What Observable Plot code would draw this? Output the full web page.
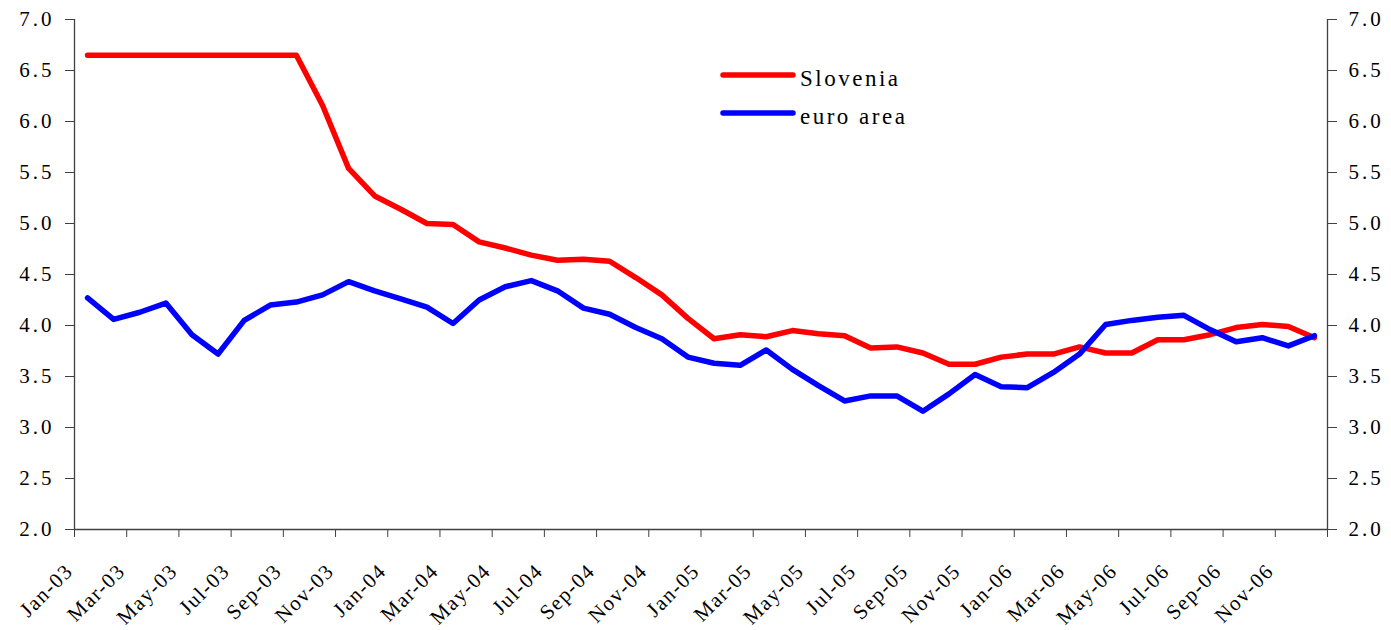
<!DOCTYPE html>
<html>
<head>
<meta charset="utf-8">
<script src="https://cdn.jsdelivr.net/npm/d3@7"></script>
<script src="https://cdn.jsdelivr.net/npm/@observablehq/plot@0.6"></script>
<style>
  html, body { margin: 0; padding: 0; background: #fff; }
  #chart svg { display: block; }
  #chart svg, #chart svg text { font-family: "Liberation Serif", "Times New Roman", serif !important; }
  #chart svg g[aria-label="y-axis tick label"] text { font-size: 21px; letter-spacing: 3px; }
  #chart svg g[aria-label="text"] text { font-size: 21px; letter-spacing: 1.5px; }
  #chart svg g.legend text { font-size: 23px; letter-spacing: 2.5px; }
</style>
</head>
<body>
<div id="chart"></div>
<script>
// Monthly data Jan-03 .. Dec-06
const tickLabels = ["Jan-03","Mar-03","May-03","Jul-03","Sep-03","Nov-03",
  "Jan-04","Mar-04","May-04","Jul-04","Sep-04","Nov-04",
  "Jan-05","Mar-05","May-05","Jul-05","Sep-05","Nov-05",
  "Jan-06","Mar-06","May-06","Jul-06","Sep-06","Nov-06"];

const slovenia = [6.65, 6.65, 6.65, 6.65, 6.65, 6.65, 6.65, 6.65, 6.65,
  6.16, 5.54, 5.27, 5.14, 5.00, 4.99, 4.82, 4.76, 4.69, 4.64, 4.65, 4.63, 4.47, 4.30, 4.07, 3.87,
  3.91, 3.89, 3.95, 3.92, 3.90, 3.78, 3.79, 3.73, 3.62, 3.62, 3.69,
  3.72, 3.72, 3.79, 3.73, 3.73, 3.86, 3.86, 3.91, 3.98, 4.01, 3.99, 3.88];

const euroArea = [4.27, 4.06, 4.13, 4.22, 3.91, 3.72, 4.05, 4.20, 4.23, 4.30, 4.43, 4.34,
  4.26, 4.18, 4.02, 4.25, 4.38, 4.44, 4.34, 4.17, 4.11, 3.98, 3.87, 3.69,
  3.63, 3.61, 3.76, 3.57, 3.41, 3.26, 3.31, 3.31, 3.16, 3.33, 3.52, 3.40,
  3.39, 3.54, 3.72, 4.01, 4.05, 4.08, 4.10, 3.96, 3.84, 3.88, 3.80, 3.90];

const seriesNames = ["Slovenia", "euro area"];
const seriesColors = ["#ff0000", "#0000ff"];
const yTicks = [2.0, 2.5, 3.0, 3.5, 4.0, 4.5, 5.0, 5.5, 6.0, 6.5, 7.0];

const nMonths = slovenia.length;
const sloData = slovenia.map((v, i) => ({x: i + 0.5, y: v}));
const euroData = euroArea.map((v, i) => ({x: i + 0.5, y: v}));
const tickPos = d3.range(0, nMonths + 1, 2);
const labelData = tickLabels.map((t, k) => ({x: k * 2, label: t}));

const font = "Liberation Serif";
const axisColor = "#404040";

const plot = Plot.plot({
  width: 1391,
  height: 630,
  marginLeft: 74,
  marginRight: 64,
  marginTop: 19,
  marginBottom: 101,
  style: {fontSize: "21px", color: "#000", background: "#fff"},
  x: {domain: [0, nMonths], axis: null},
  y: {domain: [2, 7], axis: null},
  marks: [
    Plot.ruleX([0, nMonths], {stroke: axisColor, strokeWidth: 1.3}),
    Plot.ruleY([2], {stroke: axisColor, strokeWidth: 1.3}),
    Plot.axisY({anchor: "left", ticks: yTicks, tickSize: 9, tickPadding: 11,
      tickFormat: d => d.toFixed(1), label: null, stroke: axisColor,
      fontSize: 21, fontFamily: font}),
    Plot.axisY({anchor: "right", ticks: yTicks, tickSize: 9, tickPadding: 12,
      tickFormat: d => d.toFixed(1), label: null, stroke: axisColor,
      fontSize: 21, fontFamily: font}),
    Plot.axisX({ticks: tickPos, tickSize: 8, tickFormat: () => "", label: null, stroke: axisColor}),
    Plot.text(labelData, {x: "x", text: "label", frameAnchor: "bottom",
      rotate: -45, textAnchor: "end", lineAnchor: "middle", dx: -5, dy: 38,
      fontSize: 21, fontFamily: font, fill: "#000"}),
    Plot.line(sloData, {x: "x", y: "y", stroke: seriesColors[0], strokeWidth: 5.5,
      strokeLinejoin: "round", strokeLinecap: "round"}),
    Plot.line(euroData, {x: "x", y: "y", stroke: seriesColors[1], strokeWidth: 5.5,
      strokeLinejoin: "round", strokeLinecap: "round"})
  ]
});

document.getElementById("chart").appendChild(plot);

// Legend inside the plot area
const svg = d3.select(plot);
const leg = svg.append("g").attr("class", "legend").attr("font-size", 23).attr("text-anchor", "start");
seriesNames.forEach((name, i) => {
  const yy = 75 + i * 38;
  leg.append("line").attr("x1", 723).attr("x2", 793).attr("y1", yy).attr("y2", yy)
    .attr("stroke", seriesColors[i]).attr("stroke-width", 5.5).attr("stroke-linecap", "round");
  leg.append("text").attr("x", 800).attr("y", yy + 10.5).attr("text-anchor", "start")
    .attr("fill", "#000").text(name);
});
</script>
</body>
</html>
